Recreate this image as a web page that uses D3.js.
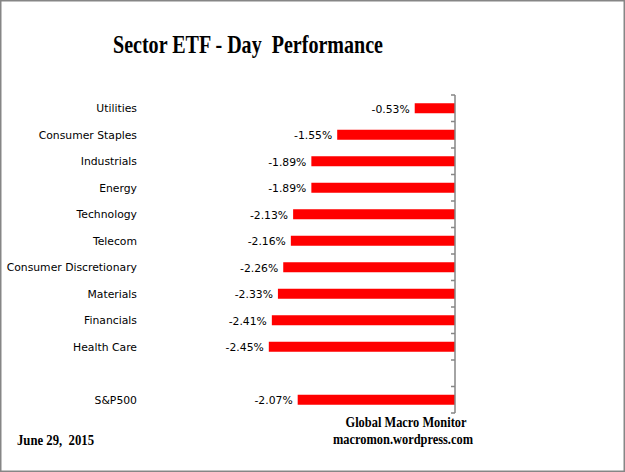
<!DOCTYPE html>
<html>
<head>
<meta charset="utf-8">
<script src="https://cdn.jsdelivr.net/npm/d3@7"></script>
<style>
body { margin: 0; background: #fff; }
text { white-space: pre; }
</style>
</head>
<body>
<div class="chart"></div>
<script>
// sectors top to bottom, "" is the empty slot before the index
var categories = ["Utilities", "Consumer Staples", "Industrials", "Energy", "Technology", "Telecom",
    "Consumer Discretionary", "Materials", "Financials", "Health Care", "", "S&P500"];
var values = [-0.53, -1.55, -1.89, -1.89, -2.13, -2.16, -2.26, -2.33, -2.41, -2.45, null, -2.07];
var xDomain = [-3, 0];

var width = 625, height = 472;

var svg = d3.select(".chart")
    .append("svg")
    .attr("width", width)
    .attr("height", height);

// outer frame
svg.append("rect")
    .attr("x", 0.75).attr("y", 0.75)
    .attr("width", width - 1.5).attr("height", height - 1.5)
    .attr("fill", "#fff")
    .attr("stroke", "#868686")
    .attr("stroke-width", 1.5);

var serif = "'Liberation Serif', 'Times New Roman', serif";

// the original type is a touch condensed, so squeeze with textLength
function serifText(str, cx, cy, size, len, anchor) {
    return svg.append("text")
        .attr("x", cx).attr("y", cy)
        .attr("text-anchor", anchor || "middle")
        .attr("textLength", len)
        .attr("lengthAdjust", "spacingAndGlyphs")
        .style("font-family", serif)
        .style("font-weight", "bold")
        .style("font-size", size + "px")
        .text(str);
}

serifText("Sector ETF - Day  Performance", 248, 53, 24.5, 270);

var x = d3.scaleLinear()
    .domain(xDomain)
    .range([227, 455]);

var y = d3.scaleBand()
    .domain(d3.range(categories.length))
    .range([95, 413]);

var rows = svg.selectAll(".row")
    .data(categories.map(function (c, i) { return {name: c, value: values[i], i: i}; }))
    .enter()
        .append("g")
        .attr("class", "row");

rows.filter(function (d) { return d.value != null; })
    .append("rect")
    .attr("x", function (d) { return x(d.value); })
    .attr("y", function (d) { return y(d.i) + y.bandwidth() / 2 - 5; })
    .attr("width", function (d) { return x(0) - x(d.value); })
    .attr("height", 10)
    .attr("fill", "#ff0000");

rows.append("text")
    .attr("x", 137)
    .attr("y", function (d) { return y(d.i) + y.bandwidth() / 2; })
    .attr("dy", "0.38em")
    .attr("text-anchor", "end")
    .style("font-family", "'DejaVu Sans', sans-serif")
    .style("font-size", "10.8px")
    .text(function (d) { return d.name; });

rows.filter(function (d) { return d.value != null; })
    .append("text")
    .attr("x", function (d) { return x(d.value) - 5; })
    .attr("y", function (d) { return y(d.i) + y.bandwidth() / 2; })
    .attr("dy", "0.42em")
    .attr("text-anchor", "end")
    .style("font-family", "'DejaVu Sans', sans-serif")
    .style("font-size", "10.8px")
    .text(function (d) { return d.value.toFixed(2) + "%"; });

// category axis on the zero line, ticks between bands
var axis = svg.append("g").attr("stroke", "#868686").attr("stroke-width", 1.5);
axis.append("line")
    .attr("x1", x(0)).attr("x2", x(0))
    .attr("y1", y.range()[0]).attr("y2", y.range()[1]);
axis.selectAll(".tick")
    .data(d3.range(categories.length + 1))
    .enter()
        .append("line")
        .attr("x1", x(0) - 4).attr("x2", x(0))
        .attr("y1", function (k) { return y.range()[0] + k * y.step(); })
        .attr("y2", function (k) { return y.range()[0] + k * y.step(); });

serifText("Global Macro Monitor", 406, 427, 15, 121);
serifText("macromon.wordpress.com", 403, 444, 15, 140);
serifText("June 29,  2015", 17, 445, 15, 77, "start");
</script>
</body>
</html>
